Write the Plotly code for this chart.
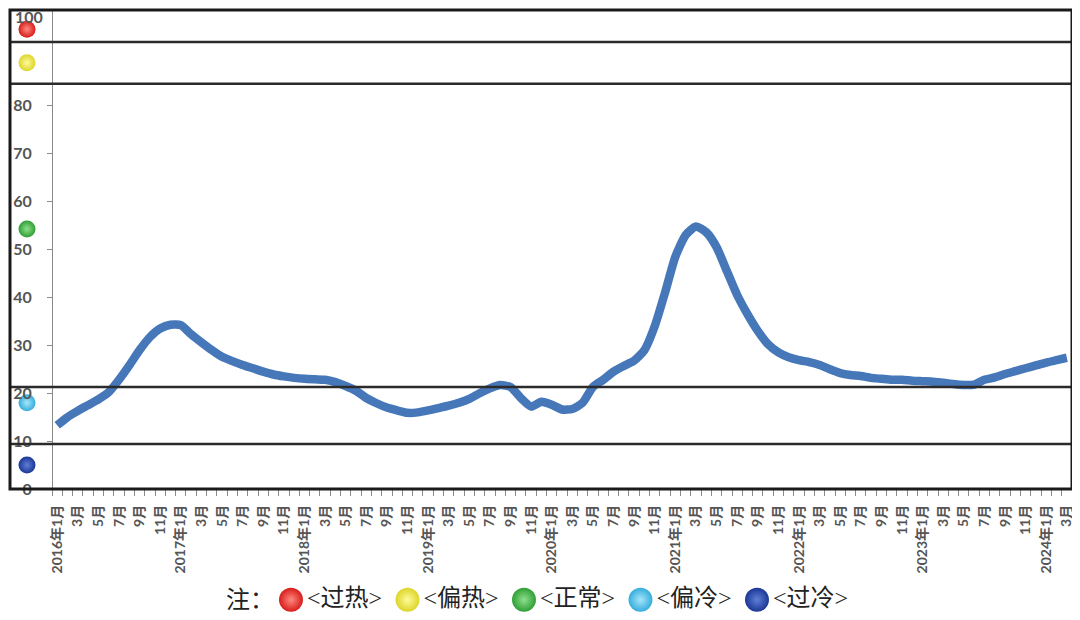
import plotly.graph_objects as go

# monthly index, 0 = 2016年1月 ... 98 = 2024年3月
index_values = [
    13.3, 15.0, 16.3, 17.5, 18.7, 20.2, 22.8, 25.8, 29.0, 31.7, 33.5, 34.3,   # 2016
    34.2, 32.3, 30.6, 29.0, 27.6, 26.7, 25.9, 25.2, 24.5, 23.9, 23.5, 23.2,   # 2017
    23.0, 22.9, 22.8, 22.3, 21.5, 20.5, 19.0, 17.9, 17.0, 16.4, 15.9, 16.0,   # 2018
    16.4, 16.9, 17.4, 18.0, 18.8, 20.0, 21.0, 21.7, 21.3, 19.0, 17.2, 18.2,   # 2019
    17.6, 16.6, 16.7, 18.0, 21.3, 22.8, 24.5, 25.7, 26.8, 29.0, 34.0, 41.0,   # 2020
    48.5, 53.0, 54.8, 53.6, 50.5, 45.5, 40.5, 36.5, 33.0, 30.2, 28.5, 27.5,   # 2021
    26.9, 26.5, 25.9, 25.0, 24.2, 23.8, 23.6, 23.2, 23.0, 22.8, 22.8, 22.6,   # 2022
    22.5, 22.4, 22.2, 21.9, 21.7, 21.8, 22.8, 23.3, 24.0, 24.6, 25.2, 25.8,   # 2023
    26.4, 26.9, 27.4,                                                          # 2024
]

zone_names = ["<过热>", "<偏热>", "<正常>", "<偏冷>", "<过冷>"]
zone_mark_y = [96.0, 89.0, 54.3, 18.0, 5.0]
zone_colors = ["#d81c1a", "#dcd52a", "#2f9e35", "#35addc", "#1c3796"]
zone_shine = ["#ff8a80", "#fffb9a", "#8fe08c", "#a6e6fa", "#5f7fd6"]
zone_bounds = [93.3, 84.6, 21.3, 9.4]

y_ticks = [0, 10, 20, 30, 40, 50, 60, 70, 80]
y_top = 100

months = list(range(len(index_values)))
tick_vals, tick_text = [], []
for i in months[::2]:
    y, m = 2016 + i // 12, i % 12 + 1
    tick_vals.append(i)
    tick_text.append(f"{y}年{m}月" if m == 1 else f"{m}月")

x_lo, x_hi = -4.58, 98.5
tick_font = dict(family="Lato, Noto Sans CJK SC", size=14, color="#555555", weight="bold")
ytick_font = dict(family="Lato, Noto Sans CJK SC", size=16, color="#555555", weight="bold")
note_font = dict(family="Liberation Serif, Noto Sans CJK SC", size=24, color="#222222")

fig = go.Figure()

fig.add_trace(go.Scatter(
    x=months, y=index_values, mode="lines",
    line=dict(color="#4677b8", width=8.5, shape="spline", smoothing=0.6),
    hoverinfo="skip",
))

# coloured level markers down the left edge
for name, yv, c, s in zip(zone_names, zone_mark_y, zone_colors, zone_shine):
    fig.add_trace(go.Scatter(
        x=[x_lo + 1.65], y=[yv], mode="markers", name=name, cliponaxis=False,
        marker=dict(size=17, color=c, line=dict(width=0),
                    gradient=dict(type="radial", color=s)),
    ))

# note row under the chart: 注： ● <过热> ● <偏热> ...
fig.add_trace(go.Scatter(
    x=list(range(len(zone_names))), y=[0] * len(zone_names),
    xaxis="x2", yaxis="y2", mode="markers+text",
    text=zone_names, textposition="middle right", textfont=note_font,
    marker=dict(size=24, color=zone_colors, line=dict(width=0),
                gradient=dict(type="radial", color=zone_shine)),
    cliponaxis=False, hoverinfo="skip",
))
fig.add_annotation(text="注：", xref="x2", yref="y2", x=-0.13, y=0,
                   xanchor="right", yanchor="middle", showarrow=False, font=note_font)

# top tick label sits on the frame line; nudge it so it stays on the page
fig.add_annotation(text=str(y_top), xref="paper", yref="y", x=0.003, y=y_top, yshift=-6,
                   xanchor="left", yanchor="middle", showarrow=False, font=ytick_font)

for b in zone_bounds:
    fig.add_shape(type="line", xref="paper", x0=0, x1=1, yref="y", y0=b, y1=b,
                  line=dict(color="#2b2b2b", width=2.5))

# outer frame
fig.add_shape(type="rect", xref="paper", yref="y domain", x0=0, x1=1, y0=0, y1=1,
              line=dict(color="#1a1a1a", width=3))

fig.update_layout(
    width=1080, height=620,
    margin=dict(l=2, r=16, t=2, b=10),
    plot_bgcolor="white", paper_bgcolor="white",
    showlegend=False,
    xaxis=dict(
        range=[x_lo, x_hi], showgrid=False, zeroline=False, showline=False, automargin=False,
        tickmode="array", tickvals=tick_vals, ticktext=tick_text,
        tickangle=-90, ticks="", ticklabelstandoff=12, tickfont=tick_font,
        minor=dict(tickmode="array", tickvals=[i - 0.5 for i in range(len(index_values) + 1)],
                   ticks="outside", ticklen=6, tickcolor="#8a8a8a", tickwidth=1),
    ),
    yaxis=dict(
        domain=[0.2122, 1], range=[0, y_top], anchor="free", position=42 / 1062, automargin=False,
        showgrid=False, zeroline=False, showline=True, linecolor="#8a8a8a", linewidth=1,
        tickmode="array", tickvals=y_ticks, ticks="outside", ticklen=5, tickcolor="#8a8a8a",
        ticklabelstandoff=12, tickfont=ytick_font,
    ),
    xaxis2=dict(domain=[0, 1], range=[-2.412, 6.704], anchor="y2", visible=False, automargin=False),
    yaxis2=dict(domain=[0, 0.06], range=[-1, 1], anchor="x2", visible=False, automargin=False),
)

fig.write_html("out.html")
